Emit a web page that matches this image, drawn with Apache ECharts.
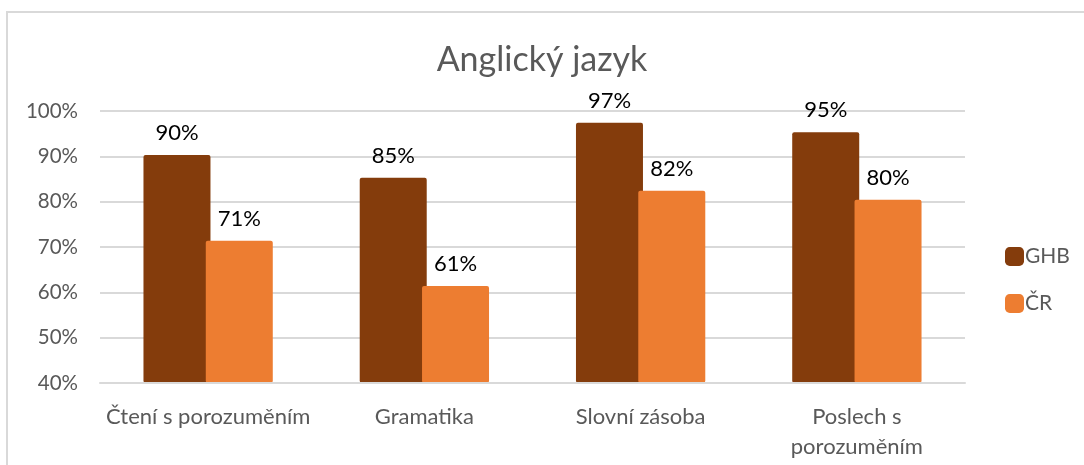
<!DOCTYPE html>
<html>
<head>
<meta charset="utf-8">
<script src="https://cdn.jsdelivr.net/npm/echarts@6/dist/echarts.min.js"></script>
<style>
  html, body { margin: 0; padding: 0; background: #fff; }
  #chart { width: 1084px; height: 465px; }
</style>
</head>
<body>
<div id="chart"></div>
<script>
// data
const categories = ['Čtení s porozuměním', 'Gramatika', 'Slovní zásoba', 'Poslech s\nporozuměním'];
const ghbValues = [90.3, 85.3, 97.4, 95.3];
const crValues = [71.4, 61.4, 82.4, 80.4];
const yTicks = [40, 50, 60, 70, 80, 90, 100];

const font = 'Lato, "Open Sans", sans-serif';

const chart = echarts.init(document.getElementById('chart'));

function labelStyle() {
  return {
    show: true,
    position: 'top',
    distance: 11,
    color: '#000',
    fontSize: 22,
    fontFamily: font,
    formatter: p => Math.round(p.value) + '%'
  };
}

chart.setOption({
  animation: false,
  title: {
    text: 'Anglický jazyk',
    left: 'center',
    top: 38,
    textStyle: { color: '#595959', fontSize: 34, fontWeight: 'normal', fontFamily: font }
  },
  graphic: [{
    type: 'rect',
    shape: { x: 7, y: 12, width: 1120, height: 500 },
    style: { fill: 'none', stroke: '#d9d9d9', lineWidth: 2 },
    silent: true
  }],
  legend: {
    orient: 'vertical',
    left: 1005,
    top: 246,
    padding: 0,
    itemWidth: 19,
    itemHeight: 19,
    itemGap: 26,
    icon: 'roundRect',
    textStyle: { color: '#595959', fontSize: 21, fontFamily: font, padding: [0, 0, 0, -4] },
    data: ['GHB', 'ČR']
  },
  grid: { left: 100, right: 119, top: 111, bottom: 82 },
  xAxis: {
    type: 'category',
    data: categories,
    axisLine: { lineStyle: { color: '#d9d9d9', width: 2 } },
    axisTick: { show: false },
    axisLabel: { color: '#595959', fontSize: 22, fontFamily: font, margin: 19, lineHeight: 30, interval: 0 },
    z: 10
  },
  yAxis: {
    type: 'value',
    min: yTicks[0],
    max: yTicks[yTicks.length - 1],
    interval: 10,
    axisLine: { show: false },
    axisTick: { show: false },
    splitLine: { lineStyle: { color: '#d9d9d9', width: 2 } },
    axisLabel: { color: '#595959', fontSize: 20.5, fontFamily: font, margin: 22, formatter: '{value}%' }
  },
  series: [{
    name: 'GHB',
    type: 'bar',
    data: ghbValues,
    barWidth: 67,
    barGap: '-7%',
    itemStyle: { color: '#843c0c', borderRadius: 2 },
    label: labelStyle()
  }, {
    name: 'ČR',
    type: 'bar',
    data: crValues,
    barWidth: 67,
    itemStyle: { color: '#ed7d31', borderRadius: 2 },
    label: labelStyle()
  }]
});
</script>
</body>
</html>
